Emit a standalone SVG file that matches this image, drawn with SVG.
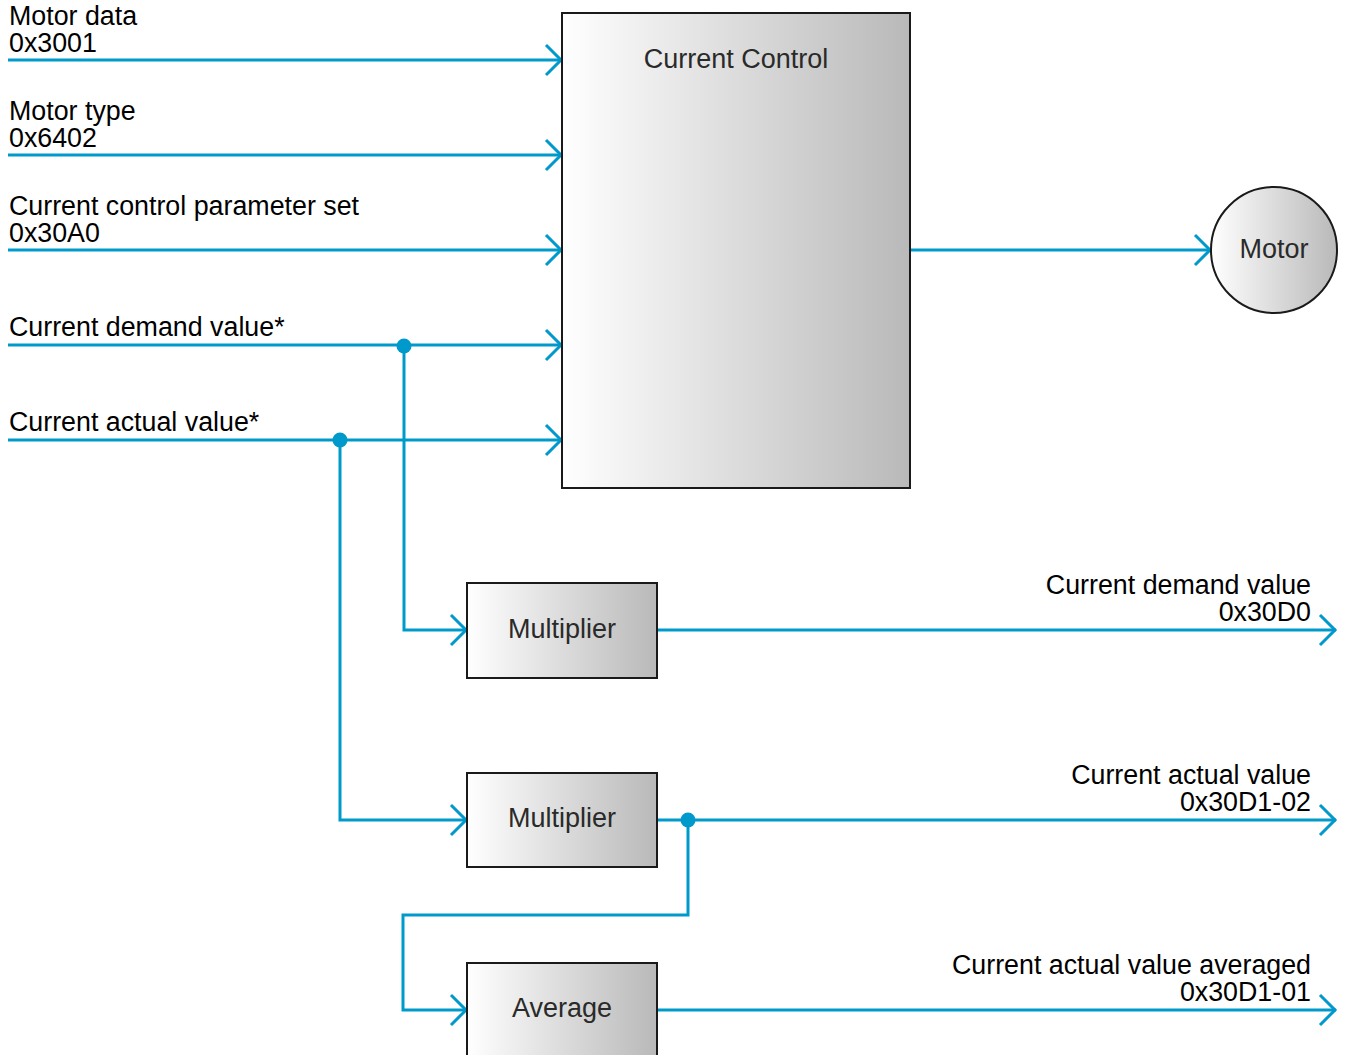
<svg xmlns="http://www.w3.org/2000/svg" width="1346" height="1055" viewBox="0 0 1346 1055">
<style>
.lbl{font-family:"Liberation Sans",Arial,sans-serif;font-size:26.8px;fill:#000}
.box{font-family:"Liberation Sans",Arial,sans-serif;font-size:27px;fill:#2a2a2a;text-anchor:middle}
.r{text-anchor:end}
.w{fill:none;stroke:#0099cc;stroke-width:3}
.n{stroke:#1a1a1a;stroke-width:2}
.dot{fill:#0099cc}
</style>
<defs>
<linearGradient id="g" x1="0" y1="0" x2="1" y2="0">
<stop offset="0" stop-color="#ffffff"/>
<stop offset="1" stop-color="#b9b9b9"/>
</linearGradient>
<marker id="a" markerUnits="userSpaceOnUse" markerWidth="40" markerHeight="40" viewBox="-20 -20 40 40" refX="0" refY="0" orient="auto" overflow="visible">
<path d="M-16,-15 L-1,0 L-16,15" fill="none" stroke="#0099cc" stroke-width="3"/>
</marker>
</defs>
<rect width="1346" height="1055" fill="#fff"/>
<g id="labels">
<text class="lbl" x="9" y="25">Motor data</text>
<text class="lbl" x="9" y="52">0x3001</text>
<text class="lbl" x="9" y="120">Motor type</text>
<text class="lbl" x="9" y="147">0x6402</text>
<text class="lbl" x="9" y="215">Current control parameter set</text>
<text class="lbl" x="9" y="242">0x30A0</text>
<text class="lbl" x="9" y="336">Current demand value*</text>
<text class="lbl" x="9" y="431">Current actual value*</text>
<text class="lbl r" x="1311" y="594">Current demand value</text>
<text class="lbl r" x="1311" y="621">0x30D0</text>
<text class="lbl r" x="1311" y="784">Current actual value</text>
<text class="lbl r" x="1311" y="811">0x30D1-02</text>
<text class="lbl r" x="1311" y="974">Current actual value averaged</text>
<text class="lbl r" x="1311" y="1001">0x30D1-01</text>
</g>
<g id="connectors">
<path class="w" d="M8,60 H562" marker-end="url(#a)"/>
<path class="w" d="M8,155 H562" marker-end="url(#a)"/>
<path class="w" d="M8,250 H562" marker-end="url(#a)"/>
<path class="w" d="M8,345 H562" marker-end="url(#a)"/>
<path class="w" d="M8,440 H562" marker-end="url(#a)"/>
<path class="w" d="M910,250 H1211" marker-end="url(#a)"/>
<path class="w" d="M404,346 V630 H467" marker-end="url(#a)"/>
<path class="w" d="M340,440 V820 H467" marker-end="url(#a)"/>
<path class="w" d="M657,630 H1336" marker-end="url(#a)"/>
<path class="w" d="M657,820 H1336" marker-end="url(#a)"/>
<path class="w" d="M657,1010 H1336" marker-end="url(#a)"/>
<path class="w" d="M688,820 V915 H403 V1010 H467" marker-end="url(#a)"/>
<circle class="dot" cx="404" cy="346" r="7.5"/>
<circle class="dot" cx="340" cy="440" r="7.5"/>
<circle class="dot" cx="688" cy="820" r="7.5"/>
</g>
<g id="current-control">
<rect x="562" y="13" width="348" height="475" fill="url(#g)" class="n"/>
<text class="box" x="736" y="68">Current Control</text>
</g>
<g id="motor">
<circle cx="1274" cy="250" r="63" fill="url(#g)" class="n"/>
<text class="box" x="1274" y="258">Motor</text>
</g>
<g id="multiplier1">
<rect x="467" y="583" width="190" height="95" fill="url(#g)" class="n"/>
<text class="box" x="562" y="638">Multiplier</text>
</g>
<g id="multiplier2">
<rect x="467" y="773" width="190" height="94" fill="url(#g)" class="n"/>
<text class="box" x="562" y="827">Multiplier</text>
</g>
<g id="average">
<rect x="467" y="963" width="190" height="100" fill="url(#g)" class="n"/>
<text class="box" x="562" y="1017">Average</text>
</g>
</svg>
